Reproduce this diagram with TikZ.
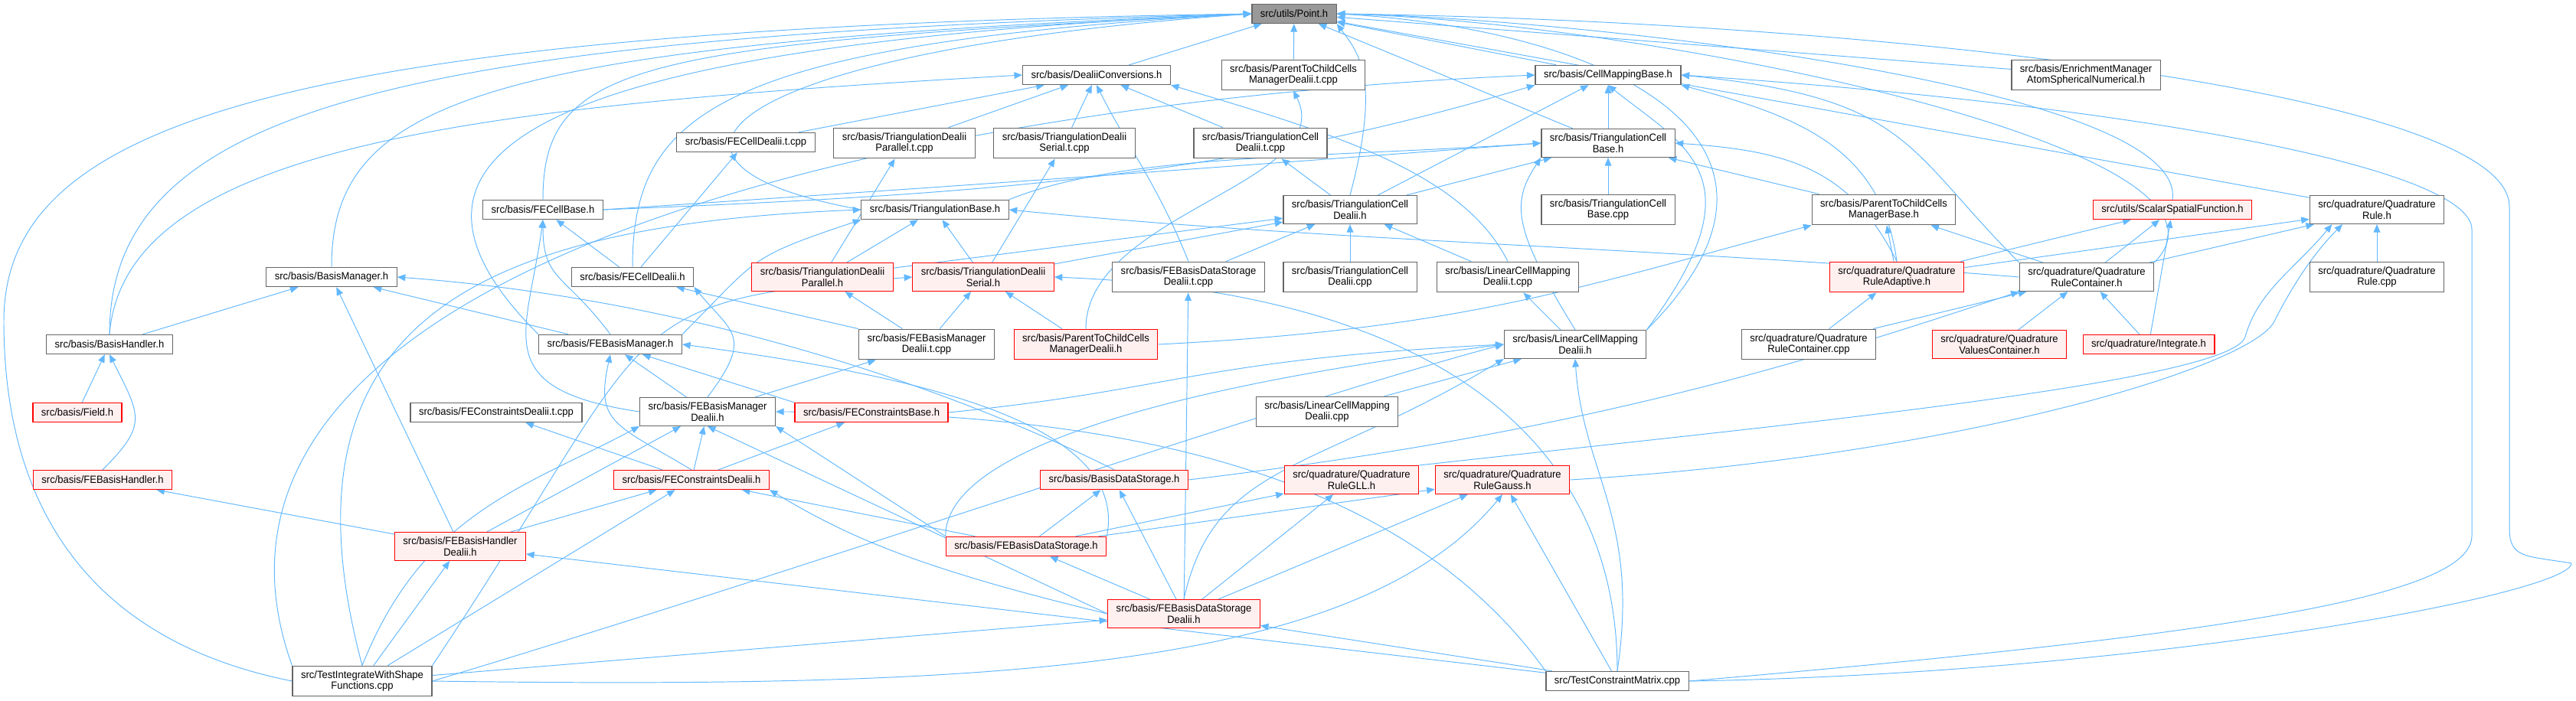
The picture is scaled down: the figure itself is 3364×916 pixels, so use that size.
\documentclass[tikz,border=0pt]{standalone}
\usepackage{fontspec}
\setmainfont[FakeStretch=0.95]{Liberation Sans}
\usepackage{tikz}
\usetikzlibrary{positioning,arrows.meta,backgrounds}
\usepackage{xcolor}
\definecolor{edgeblue}{HTML}{63B8FF}
\definecolor{boxgray}{HTML}{666666}
\definecolor{hotred}{HTML}{FF0000}
\definecolor{hotfill}{HTML}{FFF0F0}
\definecolor{rootfill}{HTML}{999999}
\tikzset{
  srcbox/.style={draw=boxgray, fill=white, line width=0.7pt, align=center,
              inner xsep=0.22cm, inner ysep=0.125cm, minimum height=0.5cm,
              font=\fontsize{7.8}{8.15}\selectfont},
  hotbox/.style={srcbox, draw=hotred, fill=hotfill},
  rootbox/.style={srcbox, fill=rootfill},
  incl/.style={-{Triangle[length=6pt,width=5pt]}, draw=edgeblue, line width=0.55pt},
  >=Stealth,
}

\begin{document}
\begin{tikzpicture}[x=0.02cm, y=-0.02cm]
\useasboundingbox (0,0) rectangle (3364,916);
\node[rootbox] (pt) at (1690,18) {src/utils/Point.h};
\node[srcbox] (dc) at (1432,98) {src/basis/DealiiConversions.h};
\node[srcbox] (ptcdtc) at (1689,98) {src/basis/ParentToChildCells\\ManagerDealii.t.cpp};
\node[srcbox] (cmb) at (2100,98) {src/basis/CellMappingBase.h};
\node[srcbox] (enr) at (2724,98) {src/basis/EnrichmentManager\\AtomSphericalNumerical.h};
\node[srcbox] (fecdtc) at (974,186) {src/basis/FECellDealii.t.cpp};
\node[srcbox] (tdptc) at (1181,187) {src/basis/TriangulationDealii\\Parallel.t.cpp};
\node[srcbox] (tdstc) at (1390,187) {src/basis/TriangulationDealii\\Serial.t.cpp};
\node[srcbox] (tcdtc) at (1646,187) {src/basis/TriangulationCell\\Dealii.t.cpp};
\node[srcbox] (tcb) at (2100,187) {src/basis/TriangulationCell\\Base.h};
\node[srcbox] (fecb) at (709,274) {src/basis/FECellBase.h};
\node[srcbox] (tb) at (1221,274) {src/basis/TriangulationBase.h};
\node[srcbox] (tcd) at (1763,274) {src/basis/TriangulationCell\\Dealii.h};
\node[srcbox] (tcbcpp) at (2100,274) {src/basis/TriangulationCell\\Base.cpp};
\node[srcbox] (ptcb) at (2460,274) {src/basis/ParentToChildCells\\ManagerBase.h};
\node[hotbox] (ssf) at (2837,274) {src/utils/ScalarSpatialFunction.h};
\node[srcbox] (qr) at (3104,274) {src/quadrature/Quadrature\\Rule.h};
\node[srcbox] (bm) at (433,362) {src/basis/BasisManager.h};
\node[srcbox] (fecd) at (826,362) {src/basis/FECellDealii.h};
\node[hotbox] (tdp) at (1074,362) {src/basis/TriangulationDealii\\Parallel.h};
\node[hotbox] (tds) at (1284,362) {src/basis/TriangulationDealii\\Serial.h};
\node[srcbox] (febdsdtc) at (1552,362) {src/basis/FEBasisDataStorage\\Dealii.t.cpp};
\node[srcbox] (tcdcpp) at (1763,362) {src/basis/TriangulationCell\\Dealii.cpp};
\node[srcbox] (lcmdtc) at (1969,362) {src/basis/LinearCellMapping\\Dealii.t.cpp};
\node[hotbox] (qra) at (2477,362) {src/quadrature/Quadrature\\RuleAdaptive.h};
\node[srcbox] (qrc) at (2725,362) {src/quadrature/Quadrature\\RuleContainer.h};
\node[srcbox] (qrcpp) at (3104,362) {src/quadrature/Quadrature\\Rule.cpp};
\node[srcbox] (bh) at (143,450) {src/basis/BasisHandler.h};
\node[srcbox] (febm) at (797,450) {src/basis/FEBasisManager.h};
\node[srcbox] (febmdtc) at (1210,450) {src/basis/FEBasisManager\\Dealii.t.cpp};
\node[hotbox] (ptcd) at (1418,450) {src/basis/ParentToChildCells\\ManagerDealii.h};
\node[srcbox] (lcmd) at (2057,450) {src/basis/LinearCellMapping\\Dealii.h};
\node[srcbox] (qrccpp) at (2362,450) {src/quadrature/Quadrature\\RuleContainer.cpp};
\node[hotbox] (qvc) at (2611,450) {src/quadrature/Quadrature\\ValuesContainer.h};
\node[hotbox] (integ) at (2806,450) {src/quadrature/Integrate.h};
\node[hotbox] (fld) at (101,539) {src/basis/Field.h};
\node[srcbox] (fecdtcpp) at (648,539) {src/basis/FEConstraintsDealii.t.cpp};
\node[srcbox] (febmd) at (924,538) {src/basis/FEBasisManager\\Dealii.h};
\node[hotbox] (fecbase) at (1138,539) {src/basis/FEConstraintsBase.h};
\node[srcbox] (lcmdcpp) at (1733,538) {src/basis/LinearCellMapping\\Dealii.cpp};
\node[hotbox] (febh) at (134,627) {src/basis/FEBasisHandler.h};
\node[hotbox] (fecons) at (903,627) {src/basis/FEConstraintsDealii.h};
\node[hotbox] (bds) at (1455,627) {src/basis/BasisDataStorage.h};
\node[hotbox] (qrgll) at (1765,627) {src/quadrature/Quadrature\\RuleGLL.h};
\node[hotbox] (qrg) at (1962,627) {src/quadrature/Quadrature\\RuleGauss.h};
\node[hotbox] (febhd) at (601,714) {src/basis/FEBasisHandler\\Dealii.h};
\node[hotbox] (febds) at (1340,714) {src/basis/FEBasisDataStorage.h};
\node[hotbox] (febdsd) at (1546,802) {src/basis/FEBasisDataStorage\\Dealii.h};
\node[srcbox] (tiws) at (473,890) {src/TestIntegrateWithShape\\Functions.cpp};
\node[srcbox] (tcm) at (2112,890) {src/TestConstraintMatrix.cpp};

\coordinate (lft) at (5,420);
\coordinate (rtip) at (3358,736);
\coordinate (rbend) at (3277,690);
\coordinate (rtop) at (3277,270);
\coordinate (rlow) at (3228,700);
\coordinate (rup) at (3228,300);
\coordinate (gllw) at (2932,440);
\coordinate (gsw) at (2970,420);

\begin{scope}[on background layer]
\draw[incl] (dc) -- (pt);
\draw[incl] (ptcdtc) -- (pt);
\draw[incl] (cmb) -- (pt);
\draw[incl] (enr) -- (pt);
\draw[incl] (tcb) -- (pt);
\draw[incl] (qr) -- (pt);
\draw[incl] (ssf.north) .. controls +(20,-150) and +(300,5) .. (pt.east);
\draw[incl] (qrc.north east) .. controls +(150,-150) and +(400,10) .. (pt.east);
\draw[incl] (tcd.north) .. controls +(40,-150) and +(30,40) .. (pt.south east);
\draw[incl] (lcmd.north east) .. controls +(250,-250) and +(350,20) .. (pt.east);
\draw[incl] (tb.west) .. controls +(-330,-60) and +(-700,50) .. (pt.west);
\draw[incl] (fecd.north) .. controls +(0,-200) and +(-700,40) .. (pt.west);
\draw[incl] (fecb.north) .. controls +(0,-180) and +(-800,40) .. (pt.west);
\draw[incl] (febm.north west) .. controls +(-250,-250) and +(-900,40) .. (pt.west);
\draw[incl] (bm.north) .. controls +(0,-220) and +(-1000,40) .. (pt.west);
\draw[incl] (bh.north) .. controls +(0,-300) and +(-1100,30) .. (pt.west);
\draw[incl] (tiws.west) .. controls +(-300,-60) and +(0,200) .. (lft)
   .. controls +(0,-250) and +(-1300,20) .. (pt.west);
\draw[incl] (tcm.east) .. controls +(600,-10) and +(0,40) .. (rtip)
   .. controls +(-60,-10) and +(0,40) .. (rbend) -- (rtop)
   .. controls +(0,-150) and +(700,10) .. (pt.east);

\draw[incl] (fecdtc) -- (dc);
\draw[incl] (tdptc) -- (dc);
\draw[incl] (tdstc) -- (dc);
\draw[incl] (tcdtc) -- (dc);
\draw[incl] (febdsdtc.north) .. controls +(-40,-100) and +(40,80) .. (dc.south);
\draw[incl] (lcmdtc.north) .. controls +(-60,-120) and +(200,60) .. (dc.south east);
\draw[incl] (bh.north) .. controls +(20,-250) and +(-700,40) .. (dc.west);

\draw[incl] (tcb) -- (cmb);
\draw[incl] (lcmd.north east) .. controls +(150,-200) and +(100,80) .. (cmb.south);
\draw[incl] (qra.north) .. controls +(-20,-150) and +(150,40) .. (cmb.south east);
\draw[incl] (tcd) -- (cmb);
\draw[incl] (tiws.north west) .. controls +(-180,-500) and +(-900,40) .. (cmb.west);
\draw[incl] (tcm.east) .. controls +(700,-60) and +(0,80) .. (rlow) -- (rup)
   .. controls +(0,-80) and +(600,40) .. (cmb.east);
\draw[incl] (qrc.north west) .. controls +(-150,-150) and +(300,30) .. (cmb.east);
\draw[incl] (fecb.east) .. controls +(500,-20) and +(-400,120) .. (cmb.south west);

\draw[incl] (tcbcpp) -- (tcb);
\draw[incl] (ptcb) -- (tcb);
\draw[incl] (qra.north) .. controls +(-60,-120) and +(150,10) .. (tcb.east);
\draw[incl] (lcmd.north) .. controls +(-80,-130) and +(-40,60) .. (tcb.south west);
\draw[incl] (tcd) -- (tcb);
\draw[incl] (tb.north east) .. controls +(150,-60) and +(-300,20) .. (tcb.west);
\draw[incl] (fecb.east) .. controls +(600,-40) and +(-400,30) .. (tcb.west);

\draw[incl] (ptcd.north) .. controls +(0,-150) and +(60,120) .. (ptcdtc.south);
\draw[incl] (tdp) -- (tdptc);
\draw[incl] (tds) -- (tdstc);
\draw[incl] (tcd) -- (tcdtc);
\draw[incl] (fecd) -- (fecdtc);

\draw[incl] (fecd) -- (fecb);
\draw[incl] (febm.north) .. controls +(-60,-80) and +(0,80) .. (fecb.south);
\draw[incl] (febmd.west) .. controls +(-200,-30) and +(-20,150) .. (fecb.south);

\draw[incl] (tiws.north) .. controls +(-120,-450) and +(-500,20) .. (tb.west);
\draw[incl] (febm.north east) .. controls +(100,-100) and +(-150,50) .. (tb.south west);
\draw[incl] (tdp) -- (tb);
\draw[incl] (tds) -- (tb);
\draw[incl] (qrc.west) .. controls +(-500,-40) and +(400,40) .. (tb.east);

\draw[incl] (tdp) -- (tcd);
\draw[incl] (tds) -- (tcd);
\draw[incl] (febdsdtc) -- (tcd);
\draw[incl] (tcdcpp) -- (tcd);
\draw[incl] (lcmdtc) -- (tcd);

\draw[incl] (ptcd.east) .. controls +(400,-20) and +(-300,80) .. (ptcb.south west);
\draw[incl] (qra) -- (ptcb);
\draw[incl] (qrc) -- (ptcb);

\draw[incl] (qra) -- (ssf);
\draw[incl] (qrc) -- (ssf);
\draw[incl] (integ) -- (ssf);

\draw[incl] (qra) -- (qr);
\draw[incl] (qrc) -- (qr);
\draw[incl] (qrgll.north east) .. controls +(450,-50) and +(-17,60) .. (gllw)
   .. controls +(17,-60) and +(-50,60) .. (qr.-162);
\draw[incl] (qrg.east) .. controls +(500,-30) and +(-30,60) .. (gsw)
   .. controls +(15,-30) and +(-45,45) .. (qr.-157);
\draw[incl] (qrcpp) -- (qr);

\draw[incl] (bh) -- (bm);
\draw[incl] (febhd) -- (bm);
\draw[incl] (febm) -- (bm);
\draw[incl] (bds.north) .. controls +(-200,-100) and +(400,30) .. (bm.east);

\draw[incl] (febmdtc.north west) -- (fecd);
\draw[incl] (febmd.north) .. controls +(60,-80) and +(50,60) .. (fecd.south east);

\draw[incl] (febmdtc) -- (tdp);
\draw[incl] (febmdtc) -- (tds);
\draw[incl] (ptcd) -- (tds);
\draw[incl] (tiws.north east) .. controls +(300,-450) and +(-400,30) .. (tds.west);
\draw[incl] (tcm.north) .. controls +(0,-300) and +(500,20) .. (tds.east);

\draw[incl] (febdsd) -- (febdsdtc);
\draw[incl] (lcmd) -- (lcmdtc);
\draw[incl] (qrccpp) -- (qra);
\draw[incl] (qrccpp) -- (qrc);
\draw[incl] (qvc) -- (qrc);
\draw[incl] (integ) -- (qrc);
\draw[incl] (bds.east) .. controls +(500,-60) and +(-300,100) .. (qrc.south west);

\draw[incl] (fld) -- (bh);
\draw[incl] (febh.north) .. controls +(60,-60) and +(40,80) .. (bh.south);

\draw[incl] (febmd) -- (febm);
\draw[incl] (fecons.north) .. controls +(-100,-60) and +(-20,90) .. (febm.south);
\draw[incl] (fecbase.north west) -- (febm);
\draw[incl] (febds.north east) .. controls +(30,-150) and +(300,40) .. (febm.east);
\draw[incl] (febmd) -- (febmdtc);

\draw[incl] (lcmdcpp) -- (lcmd);
\draw[incl] (febds.north west) .. controls +(0,-120) and +(-400,50) .. (lcmd.west);
\draw[incl] (febdsd.north) .. controls +(40,-180) and +(-250,150) .. (lcmd.south west);
\draw[incl] (tiws.east) .. controls +(500,-150) and +(-300,80) .. (lcmd.west);
\draw[incl] (tcm.north) .. controls +(30,-200) and +(10,150) .. (lcmd.south);
\draw[incl] (fecbase.east) .. controls +(300,-30) and +(-400,20) .. (lcmd.west);

\draw[incl] (febhd) -- (febmd);
\draw[incl] (fecons) -- (febmd);
\draw[incl] (febdsd.west) -- (febmd.south);
\draw[incl] (febds.north west) -- (febmd.south east);
\draw[incl] (tiws.north) .. controls +(80,-200) and +(-150,80) .. (febmd.south west);
\draw[incl] (tcm.north west) .. controls +(-200,-280) and +(400,0) .. (febmd.east);

\draw[incl] (fecons) -- (fecdtcpp);
\draw[incl] (fecons) -- (fecbase);
\draw[incl] (febhd) -- (febh);
\draw[incl] (febhd) -- (fecons);
\draw[incl] (tiws) -- (fecons);
\draw[incl] (febdsd.west) .. controls +(-250,-60) and +(100,60) .. (fecons.south east);
\draw[incl] (febds) -- (fecons);

\draw[incl] (febds) -- (bds);
\draw[incl] (febdsd) -- (bds);
\draw[incl] (febds) -- (qrgll);
\draw[incl] (febds) -- (qrg);
\draw[incl] (febdsd) -- (qrgll);
\draw[incl] (febdsd) -- (qrg);
\draw[incl] (tiws.east) .. controls +(735,10) and +(-190,230) .. (qrg.south);
\draw[incl] (tcm) -- (qrg);

\draw[incl] (tiws) -- (febhd);
\draw[incl] (tcm) -- (febhd);
\draw[incl] (febdsd) -- (febds);
\draw[incl] (tiws) -- (febdsd);
\draw[incl] (tcm) -- (febdsd);
\end{scope}
\end{tikzpicture}
\end{document}
